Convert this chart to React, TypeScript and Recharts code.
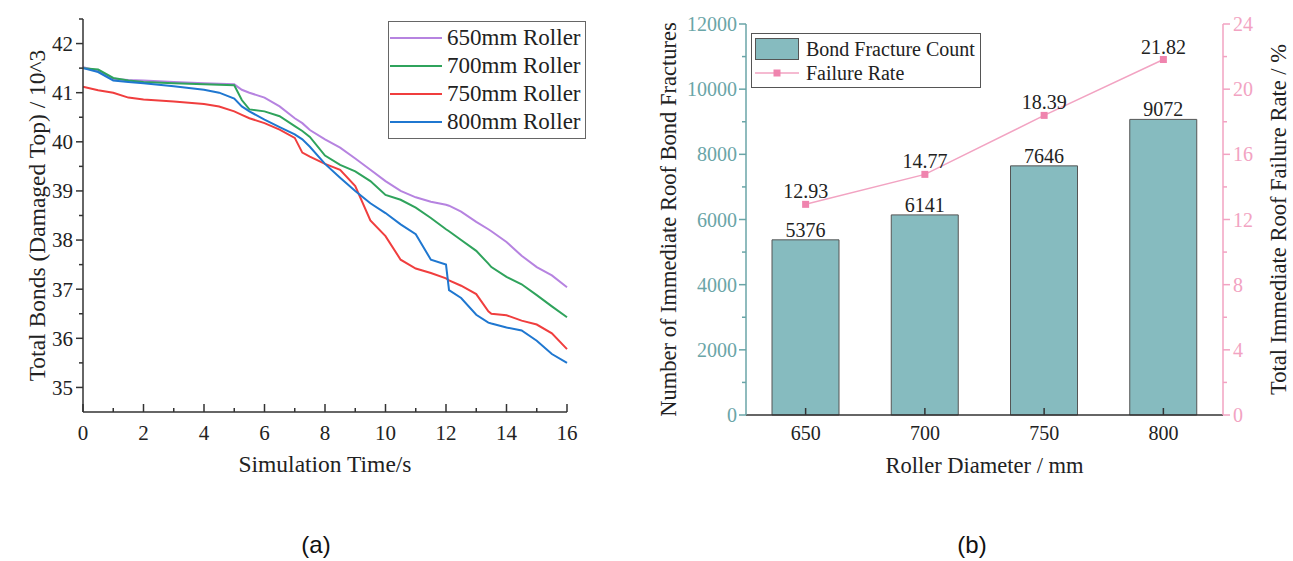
import React from 'react';
import { LineChart, Line, XAxis, YAxis, Legend, ComposedChart, Bar, LabelList, Label } from 'recharts';

// (a) bond count over time, values in 10^3
const times = [0, 0.5, 1, 1.5, 2, 3, 4, 4.5, 5, 5.25, 5.5, 6, 6.5, 7, 7.25, 7.5, 8, 8.5, 9, 9.5, 10, 10.5, 11, 11.5, 12, 12.1, 12.5, 13, 13.4, 13.5, 14, 14.5, 15, 15.5, 16];
const roller650 = [41.52, 41.45, 41.28, 41.26, 41.25, 41.22, 41.19, 41.18, 41.17, 41.06, 41.0, 40.9, 40.72, 40.48, 40.38, 40.24, 40.05, 39.88, 39.66, 39.43, 39.2, 39.0, 38.87, 38.78, 38.72, 38.7, 38.58, 38.37, 38.22, 38.18, 37.96, 37.68, 37.45, 37.28, 37.04];
const roller700 = [41.5, 41.47, 41.3, 41.25, 41.22, 41.19, 41.17, 41.16, 41.15, 40.85, 40.66, 40.62, 40.52, 40.32, 40.22, 40.1, 39.72, 39.53, 39.4, 39.2, 38.92, 38.82, 38.66, 38.45, 38.22, 38.18, 38.0, 37.78, 37.52, 37.45, 37.25, 37.1, 36.88, 36.65, 36.43];
const roller750 = [41.12, 41.05, 41.0, 40.9, 40.86, 40.82, 40.77, 40.72, 40.62, 40.55, 40.48, 40.38, 40.25, 40.08, 39.78, 39.7, 39.55, 39.43, 39.1, 38.4, 38.08, 37.6, 37.42, 37.33, 37.22, 37.18, 37.07, 36.9, 36.55, 36.5, 36.47, 36.36, 36.28, 36.1, 35.78];
const roller800 = [41.5, 41.42, 41.25, 41.22, 41.19, 41.13, 41.06, 41.0, 40.88, 40.72, 40.62, 40.45, 40.3, 40.15, 40.05, 39.9, 39.55, 39.27, 39.0, 38.75, 38.55, 38.32, 38.12, 37.6, 37.5, 36.98, 36.82, 36.48, 36.32, 36.3, 36.22, 36.16, 35.95, 35.68, 35.5];

const seriesNames = ['650mm Roller', '700mm Roller', '750mm Roller', '800mm Roller'];
const seriesKeys = ['r650', 'r700', 'r750', 'r800'];
const seriesColors = ['#b683e0', '#2fa35c', '#f03e3e', '#1f77d0'];

const timeTicks = [0, 1, 2, 3, 4, 5, 6, 7, 8, 9, 10, 11, 12, 13, 14, 15, 16];
const bondTicks = [35, 35.5, 36, 36.5, 37, 37.5, 38, 38.5, 39, 39.5, 40, 40.5, 41, 41.5, 42, 42.5];

// (b) fractures per roller diameter
const diameters = ['650', '700', '750', '800'];
const fractureCounts = [5376, 6141, 7646, 9072];
const failureRates = [12.93, 14.77, 18.39, 21.82];
const countTicks = [0, 1000, 2000, 3000, 4000, 5000, 6000, 7000, 8000, 9000, 10000, 11000, 12000];
const rateTicks = [0, 2, 4, 6, 8, 10, 12, 14, 16, 18, 20, 22, 24];

const serif = '"Liberation Serif", "Times New Roman", serif';
const ink = '#222';
const teal = '#6aa5a7';
const pink = '#f2a3c2';
const pinkDot = '#ef84ae';
const barFill = '#86bbbf';

const bondData = times.map((t, i) => ({
  t,
  r650: roller650[i],
  r700: roller700[i],
  r750: roller750[i],
  r800: roller800[i],
}));

const diameterData = diameters.map((d, i) => ({ d, count: fractureCounts[i], rate: failureRates[i] }));

const TimeTick = ({ x, y, payload }: any) => {
  const major = payload.value % 2 === 0;
  return (
    <g>
      <line x1={x} x2={x} y1={y} y2={y - (major ? 8 : 4)} stroke="#333" strokeWidth={1.5} />
      {major && (
        <text x={x} y={y + 28} textAnchor="middle" fontFamily={serif} fontSize={21} fill={ink}>
          {payload.value}
        </text>
      )}
    </g>
  );
};

const BondTick = ({ x, y, payload }: any) => {
  const major = Number.isInteger(payload.value);
  return (
    <g>
      <line x1={x - (major ? 7 : 4)} x2={x} y1={y} y2={y} stroke="#333" strokeWidth={1.5} />
      {major && (
        <text x={x - 10} y={y} dy="0.35em" textAnchor="end" fontFamily={serif} fontSize={21} fill={ink}>
          {payload.value}
        </text>
      )}
    </g>
  );
};

const BondLegend = () => (
  <div style={{ border: '1px solid #666', background: '#fff', padding: '2px 4px 2px 1px', fontFamily: serif, fontSize: 23, lineHeight: '28px', color: ink, whiteSpace: 'nowrap' }}>
    {seriesNames.map((n, i) => (
      <div key={n} style={{ display: 'flex', alignItems: 'center', height: 28 }}>
        <span style={{ display: 'inline-block', width: 52, height: 2, background: seriesColors[i], marginRight: 5 }} />
        <span>{n}</span>
      </div>
    ))}
  </div>
);

const DiameterTick = ({ x, y, payload }: any) => (
  <g>
    <line x1={x} x2={x} y1={y} y2={y - 7} stroke="#333" strokeWidth={1.5} />
    <text x={x} y={y + 25} textAnchor="middle" fontFamily={serif} fontSize={20} fill={ink}>
      {payload.value}
    </text>
  </g>
);

const CountTick = ({ x, y, payload }: any) => {
  const major = payload.value % 2000 === 0;
  return (
    <g>
      <line x1={x - (major ? 7 : 4)} x2={x} y1={y} y2={y} stroke={teal} strokeWidth={1.5} />
      {major && (
        <text x={x - 9} y={y} dy="0.35em" textAnchor="end" fontFamily={serif} fontSize={20} fill={teal}>
          {payload.value}
        </text>
      )}
    </g>
  );
};

const RateTick = ({ x, y, payload }: any) => {
  const major = payload.value % 4 === 0;
  return (
    <g>
      <line x1={x} x2={x + (major ? 7 : 4)} y1={y} y2={y} stroke={pink} strokeWidth={1.5} />
      {major && (
        <text x={x + 10} y={y} dy="0.35em" textAnchor="start" fontFamily={serif} fontSize={20} fill={pink}>
          {payload.value}
        </text>
      )}
    </g>
  );
};

const SquareDot = (props: any) => {
  const { cx, cy, index } = props;
  return <rect key={`sq-${index}`} x={cx - 3.5} y={cy - 3.5} width={7} height={7} fill={pinkDot} />;
};

const DiameterLegend = () => (
  <div style={{ boxSizing: 'border-box', width: 230, height: 55, border: '1px solid #555', background: '#fff', padding: '4px 0 0 3px', fontFamily: serif, fontSize: 20, color: ink, whiteSpace: 'nowrap' }}>
    <div style={{ display: 'flex', alignItems: 'center', height: 22 }}>
      <span style={{ boxSizing: 'border-box', display: 'inline-block', width: 44, height: 22, background: barFill, border: '1px solid #555', marginRight: 7 }} />
      <span>Bond Fracture Count</span>
    </div>
    <div style={{ display: 'flex', alignItems: 'center', height: 26 }}>
      <svg width={44} height={10} style={{ marginRight: 7 }}>
        <line x1={0} x2={44} y1={5} y2={5} stroke={pink} strokeWidth={1.5} />
        <rect x={18.5} y={1.5} width={7} height={7} fill={pinkDot} />
      </svg>
      <span>Failure Rate</span>
    </div>
  </div>
);

export default function App() {
  return (
    <div style={{ position: 'absolute', left: 0, top: 0, width: 1293, height: 561, background: '#fff', fontFamily: serif }}>
      <div style={{ position: 'absolute', left: 0, top: 0 }}>
        <LineChart width={600} height={490} data={bondData} margin={{ top: 19, right: 33, bottom: 48, left: 23 }} style={{ fontFamily: serif }}>
          <XAxis
            dataKey="t"
            type="number"
            domain={[0, 16]}
            ticks={timeTicks}
            interval={0}
            tickSize={0}
            tickMargin={0}
            tick={<TimeTick />}
            height={30}
            axisLine={{ stroke: '#333', strokeWidth: 1.5 }}
            tickLine={false}
          >
            <Label value="Simulation Time/s" position="bottom" offset={13} fontFamily={serif} fontSize={23.5} fill={ink} />
          </XAxis>
          <YAxis
            type="number"
            domain={[34.5, 42.5]}
            ticks={bondTicks}
            interval={0}
            tickSize={0}
            tickMargin={0}
            tick={<BondTick />}
            width={60}
            axisLine={{ stroke: '#333', strokeWidth: 1.5 }}
            tickLine={false}
          >
            <Label value="Total Bonds (Damaged Top) / 10^3" angle={-90} position="center" dx={-16} fontFamily={serif} fontSize={23.5} fill={ink} />
          </YAxis>
          <Legend layout="vertical" align="center" verticalAlign="middle" content={<BondLegend />} wrapperStyle={{ position: 'absolute', left: 388, top: 21, width: 'auto' }} />
          {seriesKeys.map((k, i) => (
            <Line key={k} dataKey={k} name={seriesNames[i]} type="linear" stroke={seriesColors[i]} strokeWidth={2} dot={false} isAnimationActive={false} />
          ))}
        </LineChart>
      </div>

      <div style={{ position: 'absolute', left: 640, top: 0 }}>
        <ComposedChart width={653} height={490} data={diameterData} margin={{ top: 24, right: 20, bottom: 45, left: 36 }} style={{ fontFamily: serif }}>
          <XAxis
            dataKey="d"
            type="category"
            interval={0}
            tickSize={0}
            tickMargin={0}
            tick={<DiameterTick />}
            height={30}
            axisLine={{ stroke: '#333', strokeWidth: 1.5 }}
            tickLine={false}
          >
            <Label value="Roller Diameter / mm" position="bottom" offset={12} fontFamily={serif} fontSize={22.5} fill={ink} />
          </XAxis>
          <XAxis xAxisId="top" dataKey="d" orientation="top" height={0} tick={false} tickLine={false} axisLine={{ stroke: '#222', strokeWidth: 1.5 }} />
          <YAxis
            yAxisId="count"
            type="number"
            domain={[0, 12000]}
            ticks={countTicks}
            interval={0}
            tickSize={0}
            tickMargin={0}
            tick={<CountTick />}
            width={70}
            axisLine={{ stroke: teal, strokeWidth: 1.5 }}
            tickLine={false}
          >
            <Label value="Number of Immediate Roof Bond Fractures" angle={-90} position="center" dx={-43} fontFamily={serif} fontSize={22.5} fill={ink} />
          </YAxis>
          <YAxis
            yAxisId="rate"
            orientation="right"
            type="number"
            domain={[0, 24]}
            ticks={rateTicks}
            interval={0}
            tickSize={0}
            tickMargin={0}
            tick={<RateTick />}
            width={50}
            axisLine={{ stroke: pink, strokeWidth: 1.5 }}
            tickLine={false}
          >
            <Label value="Total Immediate Roof Failure Rate / %" angle={-90} position="center" dx={30} fontFamily={serif} fontSize={22.5} fill={ink} />
          </YAxis>
          <Legend layout="vertical" align="center" verticalAlign="middle" content={<DiameterLegend />} wrapperStyle={{ position: 'absolute', left: 111, top: 33, width: 'auto' }} />
          <Bar yAxisId="count" dataKey="count" name="Bond Fracture Count" barSize={67} fill={barFill} stroke="#555" strokeWidth={1} isAnimationActive={false}>
            <LabelList dataKey="count" position="top" offset={3} fontFamily={serif} fontSize={20} fill={ink} />
          </Bar>
          <Line yAxisId="rate" dataKey="rate" name="Failure Rate" type="linear" stroke={pink} strokeWidth={1.5} dot={SquareDot} activeDot={false} isAnimationActive={false}>
            <LabelList dataKey="rate" position="top" offset={6} fontFamily={serif} fontSize={20} fill={ink} />
          </Line>
        </ComposedChart>
      </div>

      <div style={{ position: 'absolute', left: 276, top: 531, width: 80, textAlign: 'center', fontFamily: '"Liberation Sans", Arial, sans-serif', fontSize: 24, color: '#111' }}>(a)</div>
      <div style={{ position: 'absolute', left: 932, top: 531, width: 80, textAlign: 'center', fontFamily: '"Liberation Sans", Arial, sans-serif', fontSize: 24, color: '#111' }}>(b)</div>
    </div>
  );
}
